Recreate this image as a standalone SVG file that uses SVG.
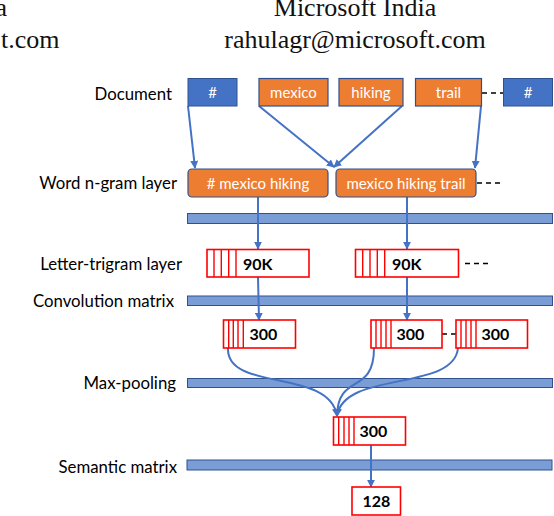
<svg xmlns="http://www.w3.org/2000/svg" width="554" height="516" viewBox="0 0 554 516">
<defs>
<style>
.hdr{font-family:"Liberation Serif","Times New Roman",serif;font-size:26px;fill:#111}
.lbl{font-family:Lato,"Noto Sans",sans-serif;font-size:16.8px;fill:#000;text-anchor:end}
.wt{font-family:Lato,"Noto Sans",sans-serif;font-size:15px;fill:#fff;text-anchor:middle}
.num{font-family:Lato,"Noto Sans",sans-serif;font-size:16px;font-weight:bold;fill:#000}
.blue{fill:#4472C4;stroke:#2F528F;stroke-width:1}
.org{fill:#ED7D31;stroke:#2F528F;stroke-width:1.2}
.bar{fill:#7A9DD6;stroke:#2F528F;stroke-width:1}
.rbox{fill:#fff;stroke:#FF0000;stroke-width:1.6}
.strp{stroke:#FF0000;stroke-width:1.4}
.con{fill:none;stroke:#4472C4;stroke-width:2}
.dash{fill:none;stroke:#000;stroke-width:1.3;stroke-dasharray:5,4}
</style>
<marker id="ah" viewBox="0 0 10 10" refX="9" refY="5" markerWidth="8" markerHeight="8" markerUnits="userSpaceOnUse" orient="auto">
<path d="M0,0 L10,5 L0,10 z" fill="#4472C4"/>
</marker>
</defs>
<rect width="554" height="516" fill="#fff"/>

<g id="header">
<text class="hdr" x="7" y="16" text-anchor="end">a</text>
<text class="hdr" x="1" y="48">t.com</text>
<text class="hdr" x="355" y="16" text-anchor="middle">Microsoft India</text>
<text class="hdr" x="355" y="48" text-anchor="middle">rahulagr@microsoft.com</text>
</g>

<g id="labels">
<text class="lbl" x="172" y="99.5">Document</text>
<text class="lbl" x="177" y="189">Word n-gram layer</text>
<text class="lbl" x="182" y="270">Letter-trigram layer</text>
<text class="lbl" x="174" y="307">Convolution matrix</text>
<text class="lbl" x="176" y="389">Max-pooling</text>
<text class="lbl" x="177" y="472.5">Semantic matrix</text>
</g>

<g id="bars">
<rect id="bar1" class="bar" x="187.5" y="213.5" width="365" height="10"/>
<rect id="bar2" class="bar" x="187.5" y="296" width="365" height="9.5"/>
<rect id="bar3" class="bar" x="187.5" y="378.5" width="365" height="9"/>
<rect id="bar4" class="bar" x="187" y="460" width="365" height="10"/>
</g>

<g id="connectors">
<line class="con" x1="188" y1="106" x2="195" y2="168" marker-end="url(#ah)"/>
<line class="con" x1="259" y1="106" x2="334" y2="167" marker-end="url(#ah)"/>
<line class="con" x1="402" y1="106" x2="334" y2="167" marker-end="url(#ah)"/>
<line class="con" x1="481" y1="106" x2="475" y2="168" marker-end="url(#ah)"/>
<line class="con" x1="258" y1="197" x2="258" y2="249" marker-end="url(#ah)"/>
<line class="con" x1="407" y1="197" x2="407" y2="249" marker-end="url(#ah)"/>
<line class="con" x1="258" y1="277" x2="259" y2="320" marker-end="url(#ah)"/>
<line class="con" x1="407" y1="277" x2="407" y2="320" marker-end="url(#ah)"/>
<path class="con" d="M228,348 C226,392 330,368 337,416" marker-end="url(#ah)"/>
<path class="con" d="M374,348 C374,396 338,372 337,416" marker-end="url(#ah)"/>
<path class="con" d="M458,348 C454,392 344,370 337,416" marker-end="url(#ah)"/>
<line class="con" x1="371" y1="445" x2="371" y2="487" marker-end="url(#ah)"/>
<line class="dash" x1="482" y1="93" x2="503" y2="93"/>
<line class="dash" x1="477" y1="183" x2="503" y2="183"/>
<line class="dash" x1="465" y1="263.5" x2="492" y2="263.5"/>
<line class="dash" x1="442" y1="334" x2="456" y2="334"/>
</g>

<g id="doc-hash1"><rect class="blue" x="188" y="78.5" width="49" height="27.5"/><text class="wt" x="212.5" y="98">#</text></g>
<g id="doc-mexico"><rect class="org" x="259" y="78.5" width="69" height="27.5"/><text class="wt" x="293.5" y="98">mexico</text></g>
<g id="doc-hiking"><rect class="org" x="339" y="78.5" width="64" height="27.5"/><text class="wt" x="371" y="98">hiking</text></g>
<g id="doc-trail"><rect class="org" x="415.5" y="78.5" width="66" height="27.5"/><text class="wt" x="448.5" y="98">trail</text></g>
<g id="doc-hash2"><rect class="blue" x="503.5" y="78.5" width="49" height="27.5"/><text class="wt" x="528" y="98">#</text></g>

<g id="ngram1"><rect class="org" x="188" y="169" width="140" height="28" rx="4"/><text class="wt" x="258" y="188.5"># mexico hiking</text></g>
<g id="ngram2"><rect class="org" x="336" y="169" width="140" height="28" rx="4"/><text class="wt" x="406" y="188.5">mexico hiking trail</text></g>

<g id="tri1">
<rect class="rbox" x="207" y="249.5" width="102" height="27.5"/>
<line class="strp" x1="214" y1="249.5" x2="214" y2="277"/>
<line class="strp" x1="221.3" y1="249.5" x2="221.3" y2="277"/>
<line class="strp" x1="228.7" y1="249.5" x2="228.7" y2="277"/>
<line class="strp" x1="236" y1="249.5" x2="236" y2="277"/>
<text class="num" x="243" y="269.5">90K</text>
</g>
<g id="tri2">
<rect class="rbox" x="355.5" y="249.5" width="103" height="27.5"/>
<line class="strp" x1="362.7" y1="249.5" x2="362.7" y2="277"/>
<line class="strp" x1="370" y1="249.5" x2="370" y2="277"/>
<line class="strp" x1="377.3" y1="249.5" x2="377.3" y2="277"/>
<line class="strp" x1="384.7" y1="249.5" x2="384.7" y2="277"/>
<text class="num" x="392" y="269.5">90K</text>
</g>

<g id="conv1">
<rect class="rbox" x="223.5" y="320" width="72" height="28"/>
<line class="strp" x1="228.7" y1="320" x2="228.7" y2="348"/>
<line class="strp" x1="233.3" y1="320" x2="233.3" y2="348"/>
<line class="strp" x1="238" y1="320" x2="238" y2="348"/>
<line class="strp" x1="243.3" y1="320" x2="243.3" y2="348"/>
<text class="num" x="249.5" y="340">300</text>
</g>
<g id="conv2">
<rect class="rbox" x="371" y="320" width="71" height="28"/>
<line class="strp" x1="376" y1="320" x2="376" y2="348"/>
<line class="strp" x1="381" y1="320" x2="381" y2="348"/>
<line class="strp" x1="386" y1="320" x2="386" y2="348"/>
<line class="strp" x1="391" y1="320" x2="391" y2="348"/>
<text class="num" x="396.5" y="340">300</text>
</g>
<g id="conv3">
<rect class="rbox" x="456" y="320" width="71.5" height="28"/>
<line class="strp" x1="461" y1="320" x2="461" y2="348"/>
<line class="strp" x1="466" y1="320" x2="466" y2="348"/>
<line class="strp" x1="471" y1="320" x2="471" y2="348"/>
<line class="strp" x1="476" y1="320" x2="476" y2="348"/>
<text class="num" x="481.5" y="340">300</text>
</g>

<g id="pool">
<rect x="333.5" y="417" width="5" height="28" fill="#FDE0E0"/>
<rect class="rbox" x="333.5" y="417" width="72" height="28"/>
<line class="strp" x1="338.7" y1="417" x2="338.7" y2="445"/>
<line class="strp" x1="344" y1="417" x2="344" y2="445"/>
<line class="strp" x1="349" y1="417" x2="349" y2="445"/>
<line class="strp" x1="354" y1="417" x2="354" y2="445"/>
<text class="num" x="359.5" y="437">300</text>
</g>

<g id="semantic">
<rect class="rbox" x="352" y="487" width="48.5" height="28"/>
<text class="num" x="376.3" y="507" text-anchor="middle">128</text>
</g>
</svg>
